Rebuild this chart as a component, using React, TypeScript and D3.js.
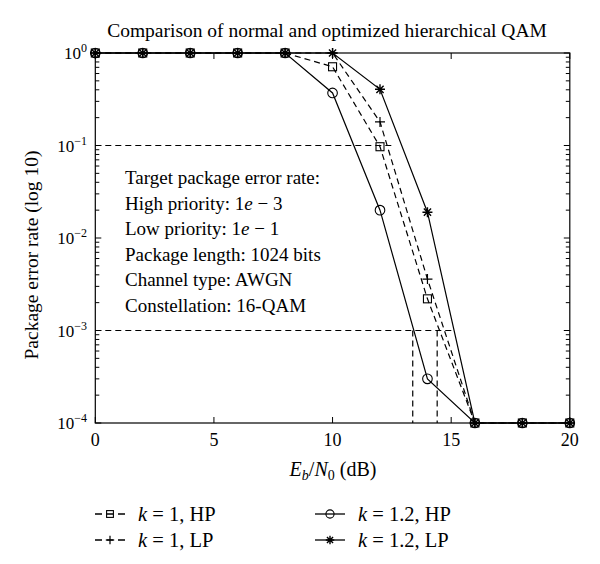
import React, { useEffect, useRef } from 'react';
import * as d3 from 'd3';

// --- Data ---
const snr = [0, 2, 4, 6, 8, 10, 12, 14, 16, 18, 20];
const k1HP = [1, 1, 1, 1, 1, 0.71, 0.097, 0.0022, 1e-4, 1e-4, 1e-4];
const k1LP = [1, 1, 1, 1, 1, 1, 0.18, 0.0036, 1e-4, 1e-4, 1e-4];
const k12HP = [1, 1, 1, 1, 1, 0.37, 0.02, 0.0003, 1e-4, 1e-4, 1e-4];
const k12LP = [1, 1, 1, 1, 1, 1, 0.405, 0.019, 1e-4, 1e-4, 1e-4];

const xTicks = [0, 5, 10, 15, 20];
const yDecades = [0, -1, -2, -3, -4];

// target guide lines: [x0, y0, x1, y1]
const targetLines = [
  [0, 0.1, 12.63, 0.1],
  [0, 1e-3, 15.16, 1e-3],
  [13.38, 1e-3, 13.38, 1e-4],
  [14.41, 1e-3, 14.41, 1e-4],
];

const infoLines = [
  'Target package error rate:',
  'High priority: 1|e| \u2212 3',
  'Low priority: 1|e| \u2212 1',
  'Package length: 1024 bits',
  'Channel type: AWGN',
  'Constellation: 16-QAM',
];

const series = [
  { k: '1', p: 'HP', values: k1HP, dashed: true, marker: 'square' },
  { k: '1', p: 'LP', values: k1LP, dashed: true, marker: 'plus' },
  { k: '1.2', p: 'HP', values: k12HP, dashed: false, marker: 'circle' },
  { k: '1.2', p: 'LP', values: k12LP, dashed: false, marker: 'star' },
];

const FONT = '"Liberation Serif", "Times New Roman", serif';

// --- Marker helper ---
const drawMarker = (g, type, x, y, sc = 1) => {
  const s = 'black';
  if (type === 'square') {
    g.append('rect').attr('x', x - 4 * sc).attr('y', y - 4 * sc).attr('width', 8 * sc).attr('height', 8 * sc)
      .attr('fill', 'none').attr('stroke', s).attr('stroke-width', 1.1);
  } else if (type === 'circle') {
    g.append('circle').attr('cx', x).attr('cy', y).attr('r', 4.8 * sc)
      .attr('fill', 'none').attr('stroke', s).attr('stroke-width', 1.1);
  } else if (type === 'plus') {
    const r = 5 * sc;
    g.append('path').attr('d', `M${x - r},${y}H${x + r}M${x},${y - r}V${y + r}`)
      .attr('stroke', s).attr('stroke-width', 1.2);
  } else {
    const r = 5 * sc, q = 3.6 * sc;
    g.append('path')
      .attr('d', `M${x - r},${y}H${x + r}M${x},${y - r}V${y + r}M${x - q},${y - q}L${x + q},${y + q}M${x - q},${y + q}L${x + q},${y - q}`)
      .attr('stroke', s).attr('stroke-width', 1.4);
  }
};

const App = () => {
  const ref = useRef(null);

  useEffect(() => {
    const svg = d3.select(ref.current);
    svg.selectAll('*').remove();

    const left = 95.3, right = 569.8, top = 53, bottom = 423;
    const x = d3.scaleLinear().domain([0, 20]).range([left, right]);
    const y = d3.scaleLog().domain([1e-4, 1]).range([bottom, top]);

    svg.append('rect').attr('width', 600).attr('height', 564).attr('fill', 'white');

    // title
    svg.append('text').attr('x', 327).attr('y', 37)
      .attr('text-anchor', 'middle').attr('font-size', 19.5)
      .text('Comparison of normal and optimized hierarchical QAM');

    // frame
    svg.append('rect').attr('x', left).attr('y', top).attr('width', right - left).attr('height', bottom - top)
      .attr('fill', 'none').attr('stroke', 'black').attr('stroke-width', 1.2);

    const ticks = svg.append('g').attr('stroke', 'black').attr('stroke-width', 1);
    // x ticks (inward, bottom and top)
    xTicks.forEach(t => {
      ticks.append('line').attr('x1', x(t)).attr('x2', x(t)).attr('y1', bottom).attr('y2', bottom - 6);
      ticks.append('line').attr('x1', x(t)).attr('x2', x(t)).attr('y1', top).attr('y2', top + 6);
    });
    // y ticks: decades and log minors, left and right
    yDecades.forEach(d => {
      const v = Math.pow(10, d);
      ticks.append('line').attr('x1', left).attr('x2', left + 6).attr('y1', y(v)).attr('y2', y(v));
      ticks.append('line').attr('x1', right).attr('x2', right - 6).attr('y1', y(v)).attr('y2', y(v));
    });
    yDecades.slice(1).forEach(d => {
      d3.range(2, 10).forEach(m => {
        const v = m * Math.pow(10, d);
        ticks.append('line').attr('x1', left).attr('x2', left + 4).attr('y1', y(v)).attr('y2', y(v));
        ticks.append('line').attr('x1', right).attr('x2', right - 4).attr('y1', y(v)).attr('y2', y(v));
      });
    });

    // tick labels
    xTicks.forEach(t => {
      svg.append('text').attr('x', x(t)).attr('y', 446).attr('text-anchor', 'middle')
        .attr('font-size', 18).text(t);
    });
    yDecades.forEach(d => {
      const t = svg.append('text').attr('x', 87).attr('y', y(Math.pow(10, d)) + 6)
        .attr('text-anchor', 'end').attr('font-size', 17);
      t.append('tspan').text('10');
      t.append('tspan').attr('font-size', 12).attr('dy', -7).text(d === 0 ? '0' : '\u2212' + (-d));
    });

    // axis titles
    const xl = svg.append('text').attr('x', 333).attr('y', 476)
      .attr('text-anchor', 'middle').attr('font-size', 20);
    xl.append('tspan').attr('font-style', 'italic').text('E');
    xl.append('tspan').attr('font-style', 'italic').attr('font-size', 14).attr('dy', 4).text('b');
    xl.append('tspan').attr('dy', -4).text('/');
    xl.append('tspan').attr('font-style', 'italic').text('N');
    xl.append('tspan').attr('font-size', 14).attr('dy', 4).text('0');
    xl.append('tspan').attr('dy', -4).text(' (dB)');

    svg.append('text').attr('transform', `translate(38,255) rotate(-90)`)
      .attr('text-anchor', 'middle').attr('font-size', 19.5)
      .text('Package error rate (log 10)');

    // target guide lines
    svg.append('g').selectAll('line').data(targetLines).enter().append('line')
      .attr('x1', d => x(d[0])).attr('y1', d => y(d[1]))
      .attr('x2', d => x(d[2])).attr('y2', d => y(d[3]))
      .attr('stroke', 'black').attr('stroke-width', 1.2).attr('stroke-dasharray', '6,4');

    // annotation
    const info = svg.append('text').attr('font-size', 19);
    infoLines.forEach((ln, i) => {
      const parts = ln.split('|');
      parts.forEach((p, j) => {
        const ts = info.append('tspan').text(p);
        if (j === 0) ts.attr('x', 125).attr('y', 184 + i * 25.5);
        if (j === 1) ts.attr('font-style', 'italic');
      });
    });

    // series
    const line = d3.line().x((d, i) => x(snr[i])).y(d => y(d));
    series.forEach(s => {
      svg.append('path').datum(s.values).attr('d', line).attr('fill', 'none')
        .attr('stroke', 'black').attr('stroke-width', 1.2)
        .attr('stroke-dasharray', s.dashed ? '6,4' : null);
    });
    const mk = svg.append('g');
    series.forEach(s => {
      s.values.forEach((v, i) => drawMarker(mk, s.marker, x(snr[i]), y(v)));
    });

    // legend
    const legendPos = [[95, 514], [95, 540], [315, 514], [315, 540]];
    series.forEach((s, i) => {
      const [lx, ly] = legendPos[i];
      const g = svg.append('g');
      if (s.dashed) {
        g.append('path').attr('d', `M${lx},${ly}H${lx + 7}M${lx + 11.5},${ly}H${lx + 18.5}M${lx + 23},${ly}H${lx + 30}`)
          .attr('stroke', 'black').attr('stroke-width', 1.3);
      } else {
        g.append('path').attr('d', `M${lx},${ly}H${lx + 30}`)
          .attr('stroke', 'black').attr('stroke-width', 1.3);
      }
      drawMarker(g, s.marker, lx + 15, ly, 0.85);
      const t = g.append('text').attr('x', lx + 43).attr('y', ly + 6.5).attr('font-size', 20.5);
      t.append('tspan').attr('font-style', 'italic').text('k');
      t.append('tspan').text(` = ${s.k}, ${s.p}`);
    });
  }, []);

  return (
    <div style={{ position: 'absolute', left: 0, top: 0, width: 600, height: 564 }}>
      <svg ref={ref} width={600} height={564} style={{ display: 'block', fontFamily: FONT }} />
    </div>
  );
};

export default App;
